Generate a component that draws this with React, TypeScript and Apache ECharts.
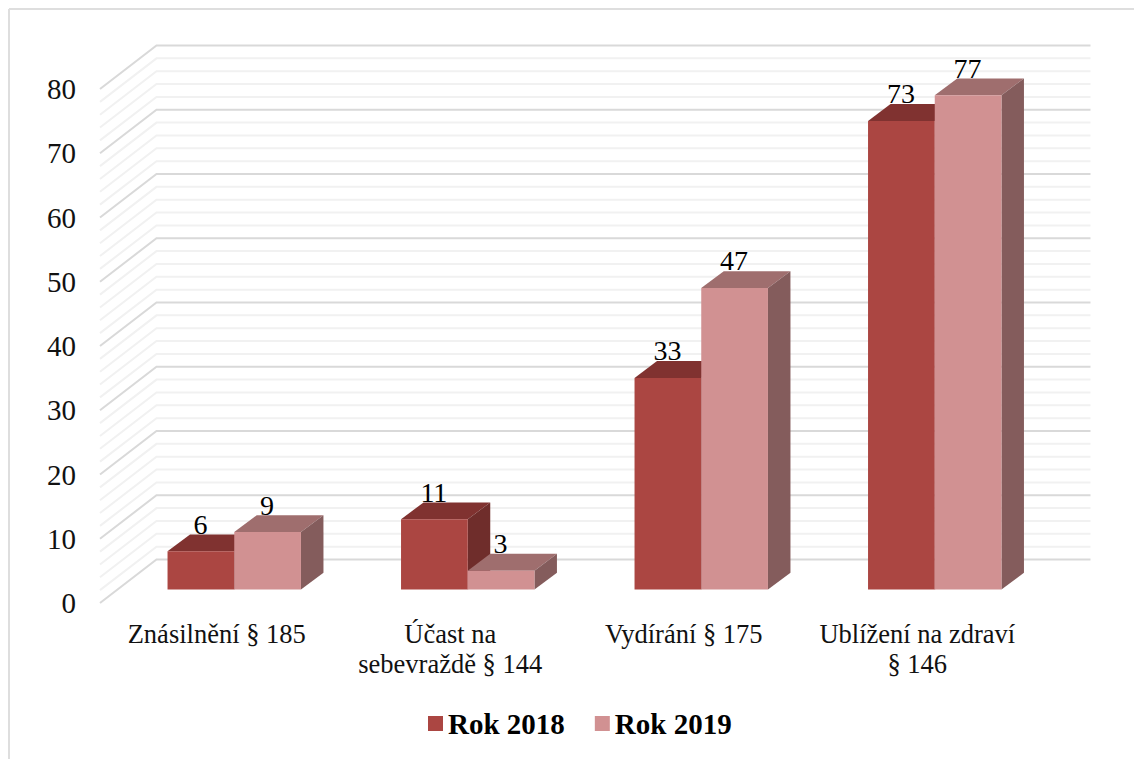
import React, { useEffect, useRef } from "react";
import * as echarts from "echarts";

const categories = ["Znásilnění § 185", "Účast na\nsebevraždě § 144", "Vydírání § 175", "Ublížení na zdraví\n§ 146"];
const values2018 = [6, 11, 33, 73];
const values2019 = [9, 3, 47, 77];
const gridValues = [0, 2, 4, 6, 8, 10, 12, 14, 16, 18, 20, 22, 24, 26, 28, 30, 32, 34, 36, 38, 40, 42, 44, 46, 48, 50, 52, 54, 56, 58, 60, 62, 64, 66, 68, 70, 72, 74, 76, 78, 80];

const FONT = "'Liberation Serif', 'Times New Roman', serif";
const WALL_DX = 56.5;
const WALL_DY = -43.5;
const BAR_DX = 22.5;
const BAR_DY = -16.8;
const OFFSET_DX = 17.5;
const OFFSET_DY = -13.1;

function makeBarRender(side: number, front: string, top: string, right: string) {
  return (_params: any, api: any) => {
    const band = api.size([1, 0])[0];
    const w = (band * 2) / 7;
    const c = api.coord([api.value(0), api.value(1)]);
    const b = api.coord([api.value(0), 0]);
    const x0 = c[0] + OFFSET_DX + (side === 0 ? -w : 0);
    const x1 = x0 + w;
    const yT = c[1] + OFFSET_DY;
    const yB = b[1] + OFFSET_DY - 0.4;
    return {
      type: "group",
      children: [
        {
          type: "polygon",
          shape: { points: [[x0, yT], [x1, yT], [x1 + BAR_DX, yT + BAR_DY], [x0 + BAR_DX, yT + BAR_DY]] },
          style: { fill: top },
        },
        {
          type: "polygon",
          shape: { points: [[x1, yT], [x1 + BAR_DX, yT + BAR_DY], [x1 + BAR_DX, yB + BAR_DY], [x1, yB]] },
          style: { fill: right },
        },
        { type: "rect", shape: { x: x0, y: yT, width: w, height: yB - yT }, style: { fill: front } },
        {
          type: "text",
          x: (x0 + x1) / 2 - 0.5,
          y: yT - 27,
          z2: 10,
          style: {
            text: String(api.value(1)),
            fill: "#000",
            font: `28px ${FONT}`,
            align: "center",
            verticalAlign: "middle",
          },
        },
      ],
    };
  };
}

const renderGrid = (params: any, api: any) => {
  const v = api.value(1);
  const y = api.coord([0, v])[1];
  const xL = params.coordSys.x;
  const xR = xL + params.coordSys.width + WALL_DX;
  return {
    type: "polyline",
    shape: { points: [[xL, y], [xL + WALL_DX, y + WALL_DY], [xR, y + WALL_DY]] },
    style: { fill: "none", stroke: v % 10 === 0 ? "#d9d9d9" : "#f1f1f1", lineWidth: 2 },
    silent: true,
  };
};

export default function App() {
  const ref = useRef<HTMLDivElement>(null);
  useEffect(() => {
    document.body.style.margin = "0";
    const chart = echarts.init(ref.current!, null, { renderer: "svg" });
    chart.setOption({
      animation: false,
      backgroundColor: "#fff",
      grid: { left: 100, right: 100, top: 89, bottom: 156, containLabel: false },
      xAxis: {
        type: "category",
        data: categories,
        axisLine: { show: false },
        axisTick: { show: false },
        splitLine: { show: false },
        axisLabel: { fontFamily: FONT, fontSize: 26.5, color: "#111", margin: 16, lineHeight: 30, interval: 0 },
      },
      yAxis: {
        type: "value",
        min: 0,
        max: 80,
        interval: 10,
        axisLine: { show: false },
        axisTick: { show: false },
        splitLine: { show: false },
        axisLabel: { fontFamily: FONT, fontSize: 29, color: "#111", margin: 24, padding: [2, 0, 0, 0] },
      },
      legend: {
        data: [
          { name: "Rok 2018", icon: "rect" },
          { name: "Rok 2019", icon: "rect" },
        ],
        left: 423,
        top: 704,
        itemWidth: 15,
        itemHeight: 15,
        itemGap: 30,
        textStyle: { fontFamily: FONT, fontSize: 29, fontWeight: "bold", color: "#000" },
      },
      graphic: [
        { type: "line", shape: { x1: 9, y1: 9, x2: 1134, y2: 9 }, style: { stroke: "#dedede", lineWidth: 2 } },
        { type: "line", shape: { x1: 9, y1: 9, x2: 9, y2: 759 }, style: { stroke: "#dedede", lineWidth: 2 } },
      ],
      series: [
        {
          type: "custom",
          name: "grid",
          z: 1,
          data: gridValues.map((v) => [0, v]),
          encode: { x: 0, y: 1 },
          renderItem: renderGrid,
          silent: true,
        },
        {
          type: "custom",
          name: "Rok 2018",
          z: 2,
          itemStyle: { color: "#ab4642" },
          data: values2018.map((v, i) => [i, v]),
          encode: { x: 0, y: 1 },
          renderItem: makeBarRender(0, "#ab4642", "#803230", "#6f2d2b"),
        },
        {
          type: "custom",
          name: "Rok 2019",
          z: 3,
          itemStyle: { color: "#d19192" },
          data: values2019.map((v, i) => [i, v]),
          encode: { x: 0, y: 1 },
          renderItem: makeBarRender(1, "#d19192", "#9f6e6e", "#845c5c"),
        },
      ],
    });
    return () => chart.dispose();
  }, []);
  return <div ref={ref} style={{ position: "absolute", left: 0, top: 0, width: 1134, height: 759 }} />;
}
